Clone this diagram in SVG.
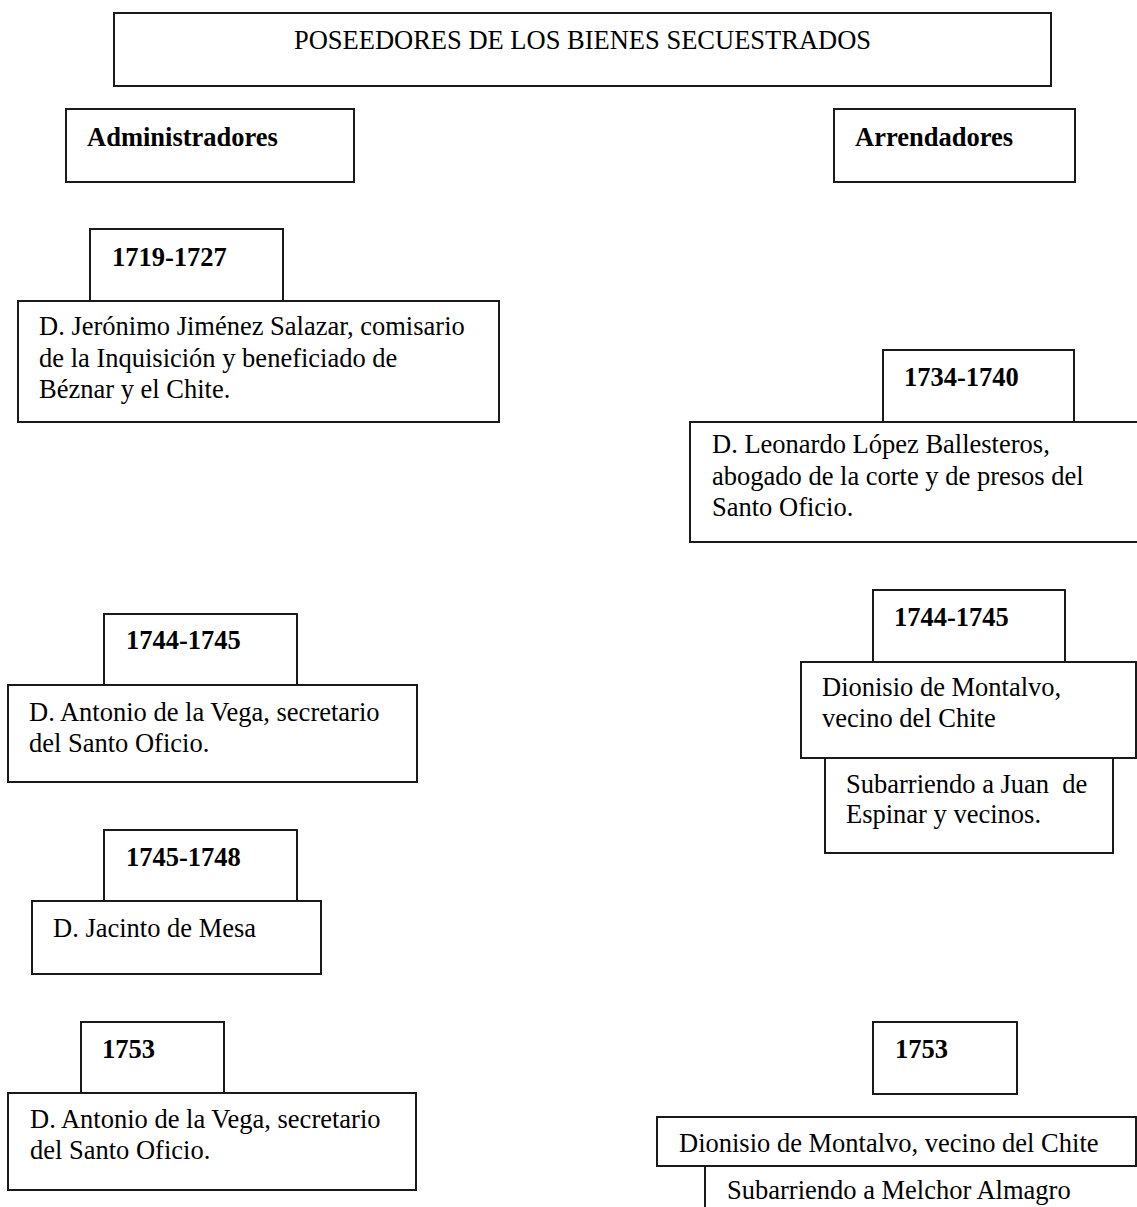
<svg xmlns="http://www.w3.org/2000/svg" width="1137" height="1207" viewBox="0 0 1137 1207">
<style>
.box{fill:#fff;stroke:#1a1a1a;stroke-width:2}
.t{font-family:"Liberation Serif","Times New Roman",serif;font-size:26.5px;fill:#000}
.b{font-weight:bold}
</style>
<rect x="0" y="0" width="1137" height="1207" fill="#fff"/>
<g id="connectors"/>
<g id="title">
<rect class="box" x="114" y="13" width="937" height="73"/>
<text class="t" x="582.5" y="49" text-anchor="middle">POSEEDORES DE LOS BIENES SECUESTRADOS</text>
</g>
<g id="administradores">
<rect class="box" x="66" y="109" width="288" height="73"/>
<text class="t b" x="87" y="146">Administradores</text>
</g>
<g id="arrendadores">
<rect class="box" x="834" y="109" width="241" height="73"/>
<text class="t b" x="855" y="146">Arrendadores</text>
</g>
<g id="adm-1719">
<rect class="box" x="90" y="229" width="193" height="72"/>
<text class="t b" x="112" y="266">1719-1727</text>
</g>
<g id="adm-jeronimo">
<rect class="box" x="18" y="301" width="481" height="121"/>
<text class="t" x="39" y="335">D. Jerónimo Jiménez Salazar, comisario</text>
<text class="t" x="39" y="366.5">de la Inquisición y beneficiado de</text>
<text class="t" x="39" y="398">Béznar y el Chite.</text>
</g>
<g id="arr-1734">
<rect class="box" x="883" y="350" width="191" height="72"/>
<text class="t b" x="904" y="386">1734-1740</text>
</g>
<g id="arr-leonardo">
<rect class="box" x="690" y="422" width="460" height="120"/>
<text class="t" x="712" y="453">D. Leonardo López Ballesteros,</text>
<text class="t" x="712" y="485">abogado de la corte y de presos del</text>
<text class="t" x="712" y="516">Santo Oficio.</text>
</g>
<g id="adm-1744">
<rect class="box" x="104" y="614" width="193" height="71"/>
<text class="t b" x="126" y="649">1744-1745</text>
</g>
<g id="adm-antonio-1">
<rect class="box" x="8" y="685" width="409" height="97"/>
<text class="t" x="29" y="721">D. Antonio de la Vega, secretario</text>
<text class="t" x="29" y="752">del Santo Oficio.</text>
</g>
<g id="adm-1745">
<rect class="box" x="104" y="830" width="193" height="71"/>
<text class="t b" x="126" y="866">1745-1748</text>
</g>
<g id="adm-jacinto">
<rect class="box" x="32" y="901" width="289" height="73"/>
<text class="t" x="53" y="937">D. Jacinto de Mesa</text>
</g>
<g id="adm-1753">
<rect class="box" x="81" y="1022" width="143" height="71"/>
<text class="t b" x="102" y="1058">1753</text>
</g>
<g id="adm-antonio-2">
<rect class="box" x="8" y="1093" width="408" height="97"/>
<text class="t" x="30" y="1128">D. Antonio de la Vega, secretario</text>
<text class="t" x="30" y="1159">del Santo Oficio.</text>
</g>
<g id="arr-1744">
<rect class="box" x="873" y="590" width="192" height="72"/>
<text class="t b" x="894" y="626">1744-1745</text>
</g>
<g id="arr-subarriendo-juan">
<rect class="box" x="825" y="758" width="288" height="95"/>
<text class="t" x="846" y="793" xml:space="preserve">Subarriendo a Juan  de</text>
<text class="t" x="846" y="823">Espinar y vecinos.</text>
</g>
<g id="arr-dionisio-1">
<rect class="box" x="801" y="662" width="335" height="96"/>
<text class="t" x="822" y="696">Dionisio de Montalvo,</text>
<text class="t" x="822" y="727">vecino del Chite</text>
</g>
<g id="arr-1753">
<rect class="box" x="873" y="1022" width="144" height="72"/>
<text class="t b" x="895" y="1058">1753</text>
</g>
<g id="arr-subarriendo-melchor">
<rect class="box" x="705" y="1166" width="460" height="80"/>
<text class="t" x="727" y="1199">Subarriendo a Melchor Almagro</text>
</g>
<g id="arr-dionisio-2">
<rect class="box" x="657" y="1117" width="479" height="49"/>
<text class="t" x="679" y="1152">Dionisio de Montalvo, vecino del Chite</text>
</g>
</svg>
